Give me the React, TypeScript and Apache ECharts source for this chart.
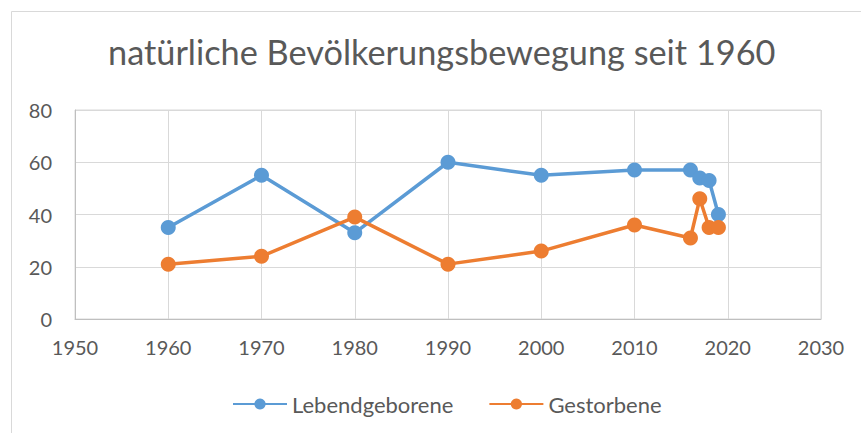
import React, { useEffect, useRef } from "react";
import * as echarts from "echarts";

const years = [1960, 1970, 1980, 1990, 2000, 2010, 2016, 2017, 2018, 2019];
const lebendgeborene = [35, 55, 33, 60, 55, 57, 57, 54, 53, 40];
const gestorbene = [21, 24, 39, 21, 26, 36, 31, 46, 35, 35];
const seriesNames = ["Lebendgeborene", "Gestorbene"];
const titleText = "natürliche Bevölkerungsbewegung seit 1960";

const FONT = "Lato, 'Open Sans', sans-serif";
const TEXT = "#595959";

export default function App() {
  const ref = useRef<HTMLDivElement>(null);
  useEffect(() => {
    if (!ref.current) return;
    const chart = echarts.init(ref.current, undefined, { renderer: "svg" });
    const mk = (name: string, vals: number[], color: string) => ({
      name,
      type: "line",
      data: years.map((y, i) => [y, vals[i]]),
      symbol: "circle",
      symbolSize: 15,
      lineStyle: { color, width: 3.5 },
      itemStyle: { color },
      color,
    });
    chart.setOption({
      animation: false,
      backgroundColor: "#fff",
      textStyle: { fontFamily: FONT },
      title: {
        text: titleText,
        left: 108,
        top: 34,
        padding: 0,
        textStyle: { fontFamily: FONT, fontSize: 34.3, fontWeight: "normal", color: TEXT },
      },
      graphic: [
        {
          type: "rect",
          shape: { x: 11.5, y: 11.5, width: 870, height: 440 },
          style: { fill: "none", stroke: "#d9d9d9", lineWidth: 1 },
          silent: true,
        },
      ],
      legend: {
        bottom: 18,
        left: 232,
        padding: 0,
        itemWidth: 54,
        itemHeight: 14,
        itemGap: 35,
        textStyle: { fontFamily: FONT, fontSize: 22, color: TEXT },
        data: seriesNames,
      },
      grid: {
        left: 75,
        top: 110,
        width: 746,
        height: 209,
        show: true,
        borderColor: "#d9d9d9",
        borderWidth: 1,
      },
      xAxis: {
        type: "value",
        min: 1950,
        max: 2030,
        interval: 10,
        axisLine: { show: true, onZero: false, lineStyle: { color: "#bfbfbf", width: 1 } },
        axisTick: { show: false },
        splitLine: { show: true, lineStyle: { color: "#d9d9d9", width: 1 } },
        axisLabel: {
          fontFamily: FONT,
          fontSize: 20,
          color: TEXT,
          margin: 18,
          formatter: (v: number) => String(v),
        },
      },
      yAxis: {
        type: "value",
        min: 0,
        max: 80,
        interval: 20,
        axisLine: { show: true, lineStyle: { color: "#bfbfbf", width: 1 } },
        axisTick: { show: false },
        splitLine: { show: true, lineStyle: { color: "#d9d9d9", width: 1 } },
        axisLabel: { fontFamily: FONT, fontSize: 20, color: TEXT, margin: 23 },
      },
      series: [
        mk(seriesNames[0], lebendgeborene, "#5B9BD5"),
        mk(seriesNames[1], gestorbene, "#ED7D31"),
      ],
    });
    return () => chart.dispose();
  }, []);
  return (
    <div style={{ position: "fixed", left: 0, top: 0, width: 861, height: 433, background: "#fff" }}>
      <div ref={ref} style={{ width: 861, height: 433 }} />
    </div>
  );
}
